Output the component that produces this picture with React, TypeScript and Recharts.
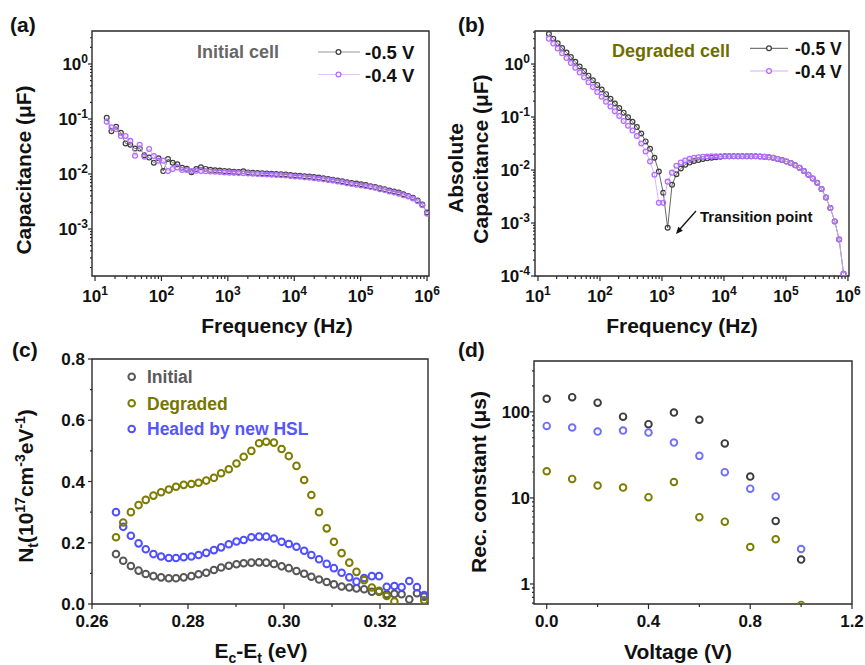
import React from "react";
import { ReferenceArea, Scatter, ScatterChart, XAxis, YAxis } from "recharts";

const FONT = '"Liberation Sans", Arial, Helvetica, sans-serif';
const AXIS = "#2a2a2a";

// (a)/(b) frequency sweep, Hz
const freqHz = [
  15, 17.66, 20.8, 24.49, 28.83, 33.95, 39.97, 47.07, 55.42, 65.25,
  76.82, 90.45, 106.5, 125.4, 147.6, 173.8, 204.7, 241, 283.8, 334.2,
  393.4, 463.3, 545.5, 642.3, 756.2, 890.4, 1048, 1235, 1454, 1712,
  2015, 2373, 2794, 3290, 3873, 4561, 5370, 6324, 7446, 8767,
  10323, 12154, 14311, 16850, 19840, 23360, 27504, 32385, 38131, 44897,
  52860, 62241, 73285, 86290, 101600, 119630, 140860, 165850, 195280, 229930,
  270720, 318770, 375330, 441930, 520330, 612680, 721400, 849400, 1000000,
];

// (a) initial cell, capacitance in uF
const initialNeg05 = [
  0.105, 0.06, 0.072, 0.056, 0.036, 0.034, 0.029, 0.029, 0.022, 0.0199,
  0.0161, 0.0193, 0.0113, 0.0187, 0.016, 0.015, 0.013, 0.0125, 0.0108, 0.0123,
  0.0133, 0.0124, 0.0119, 0.0117, 0.0116, 0.0114, 0.0112, 0.011, 0.0109, 0.0112,
  0.0107, 0.0105, 0.0104, 0.0103, 0.0102, 0.0101, 0.01, 0.0099, 0.0098, 0.0096,
  0.0094, 0.0093, 0.0091, 0.009, 0.0088, 0.0086, 0.0084, 0.0081, 0.0079, 0.0076,
  0.0074, 0.0071, 0.0069, 0.0067, 0.0065, 0.0063, 0.006, 0.0058, 0.0055, 0.0053,
  0.005, 0.0048, 0.0046, 0.0043, 0.004, 0.0037, 0.0033, 0.0028, 0.002,
];
const initialNeg04 = [
  0.089, 0.071, 0.065, 0.049, 0.049, 0.04, 0.0215, 0.034, 0.0206, 0.0285,
  0.0213, 0.0175, 0.0175, 0.0113, 0.0123, 0.0132, 0.0118, 0.0118, 0.0113, 0.0115,
  0.0113, 0.0112, 0.0111, 0.011, 0.0109, 0.0107, 0.0106, 0.0105, 0.0104, 0.0103,
  0.0102, 0.0101, 0.01, 0.0099, 0.0098, 0.0097, 0.0096, 0.0095, 0.0094, 0.0092,
  0.009, 0.0089, 0.0087, 0.0086, 0.0084, 0.0082, 0.008, 0.0078, 0.0076, 0.0073,
  0.0071, 0.0068, 0.0066, 0.0064, 0.0062, 0.006, 0.0058, 0.0056, 0.0053, 0.0051,
  0.0048, 0.0046, 0.0044, 0.0041, 0.0039, 0.0036, 0.0032, 0.0027, 0.0019,
];

// (b) degraded cell, absolute capacitance in uF
const degradedNeg05 = [
  3.68, 3.01, 2.46, 2.01, 1.65, 1.35, 1.1, 0.9, 0.738, 0.603,
  0.493, 0.404, 0.33, 0.27, 0.221, 0.18, 0.148, 0.121, 0.0989, 0.0813,
  0.0646, 0.049, 0.0347, 0.0251, 0.017, 0.00933, 0.00372, 0.000813, 0.00525, 0.00832,
  0.0107, 0.0126, 0.0138, 0.0148, 0.0155, 0.0162, 0.0166, 0.017, 0.0174, 0.0178,
  0.0182, 0.0182, 0.0182, 0.0182, 0.0182, 0.0182, 0.0182, 0.0182, 0.018, 0.0178,
  0.0174, 0.017, 0.0162, 0.0155, 0.0145, 0.0135, 0.0123, 0.011, 0.00955, 0.00813,
  0.00692, 0.00575, 0.00437, 0.00302, 0.00191, 0.00107, 0.00049, 0.00011, null,
];
const degradedNeg04 = [
  3.01, 2.44, 1.97, 1.6, 1.3, 1.05, 0.851, 0.69, 0.56, 0.453,
  0.367, 0.298, 0.241, 0.195, 0.158, 0.128, 0.104, 0.0843, 0.0684, 0.0557,
  0.0437, 0.0316, 0.0224, 0.0145, 0.00813, 0.0024, 0.0024, 0.00603, 0.00891, 0.012,
  0.0138, 0.0151, 0.0162, 0.017, 0.0174, 0.0178, 0.018, 0.0182, 0.0182, 0.0182,
  0.0182, 0.0182, 0.0182, 0.0182, 0.0182, 0.0182, 0.0182, 0.0182, 0.018, 0.0178,
  0.0174, 0.017, 0.0162, 0.0155, 0.0145, 0.0135, 0.0123, 0.011, 0.00955, 0.00813,
  0.00692, 0.00575, 0.00437, 0.00302, 0.00191, 0.00107, 0.00049, 0.00011, null,
];

// (c) trap density vs energy depth
const energyEv = [
  0.265, 0.2665, 0.2681, 0.2697, 0.2712, 0.2728, 0.2744, 0.276, 0.2775, 0.2791,
  0.2807, 0.2822, 0.2838, 0.2854, 0.2869, 0.2885, 0.2901, 0.2916, 0.2932, 0.2948,
  0.2963, 0.2979, 0.2995, 0.301, 0.3026, 0.3042, 0.3057, 0.3073, 0.3089, 0.3104,
  0.312, 0.3136, 0.3151, 0.3167, 0.3183, 0.3198, 0.3214, 0.323, 0.3245, 0.3261,
  0.3277, 0.3292,
];
const ntInitial = [
  0.163, 0.141, 0.124, 0.109, 0.098, 0.091, 0.087, 0.084, 0.084, 0.087,
  0.091, 0.097, 0.102, 0.111, 0.119, 0.125, 0.13, 0.133, 0.135, 0.136,
  0.135, 0.131, 0.123, 0.117, 0.108, 0.099, 0.089, 0.08, 0.072, 0.064,
  0.057, 0.054, 0.051, 0.048, 0.04, 0.04, 0.032, 0.033, 0.032, 0.015,
  0.035, 0.024,
];
const ntDegraded = [
  0.218, 0.266, 0.3, 0.323, 0.34, 0.354, 0.365, 0.374, 0.383, 0.389,
  0.392, 0.396, 0.403, 0.412, 0.427, 0.44, 0.459, 0.481, 0.5, 0.525,
  0.53, 0.527, 0.506, 0.483, 0.451, 0.405, 0.356, 0.3, 0.247, 0.203,
  0.166, 0.135, 0.105, 0.078, 0.054, 0.043, 0.026, 0.008, -0.02, -0.025,
  -0.02, 0.012,
];
const ntHealed = [
  0.3, 0.252, 0.223, 0.198, 0.179, 0.163, 0.155, 0.15, 0.15, 0.153,
  0.155, 0.16, 0.167, 0.176, 0.185, 0.195, 0.204, 0.209, 0.218, 0.22,
  0.22, 0.214, 0.203, 0.196, 0.187, 0.174, 0.16, 0.146, 0.131, 0.117,
  0.102, 0.087, 0.073, 0.085, 0.091, 0.091, 0.056, 0.059, 0.055, 0.075,
  0.055, 0.029,
];

// (d) recombination constant vs voltage
const voltage = [0, 0.1, 0.2, 0.3, 0.4, 0.5, 0.6, 0.7, 0.8, 0.9, 1.0];
const tauInitial = [141.6, 148, 128, 88, 72, 98, 81, 43, 17.7, 5.4, 1.92];
const tauDegraded = [20.4, 16.6, 13.9, 13.2, 10.2, 15.3, 5.97, 5.3, 2.69, 3.31, 0.57];
const tauHealed = [68.7, 65.8, 59, 60.6, 57.5, 44, 30.8, 19.9, 12.8, 10.4, 2.55];

const cTicksX = [0.26, 0.27, 0.28, 0.29, 0.3, 0.31, 0.32];
const cTicksY = [0, 0.1, 0.2, 0.3, 0.4, 0.5, 0.6, 0.7, 0.8];
const dTicksX = [0, 0.2, 0.4, 0.6, 0.8, 1.0, 1.2];

const COL = {
  black: "#3c3c3c",
  blackLine: "#555",
  purple: "#b36dff",
  purpleLine: "#cfadfb",
  grey: "#575757",
  olive: "#7c7c00",
  blue: "#4f4fff",
  blueD: "#6f6fff",
};

function toPoints(xs: number[], ys: (number | null)[]) {
  return xs
    .map((x, i) => ({ x, y: ys[i] }))
    .filter((p) => p.y !== null && p.y !== undefined);
}

// 1..9 x 10^n inside [lo, hi]
function logTicks(lo: number, hi: number) {
  const out: number[] = [];
  for (let e = Math.floor(Math.log10(lo)); e <= Math.ceil(Math.log10(hi)); e++) {
    for (let m = 1; m <= 9; m++) {
      const v = m * Math.pow(10, e);
      if (v >= lo * 0.999 && v <= hi * 1.001) out.push(v);
    }
  }
  return out;
}

const isDecade = (v: number) => Math.abs(Math.log10(v) - Math.round(Math.log10(v))) < 1e-6;
const everyStep = (step: number) => (v: number) => Math.abs(v / step - Math.round(v / step)) < 1e-6;

const pow10Label = (v: number) => (
  <>
    10
    <tspan dy={-7} fontSize={12}>
      {Math.round(Math.log10(v))}
    </tspan>
  </>
);

interface TickSpec {
  side: "x" | "y";
  isMajor: (v: number) => boolean;
  label: (v: number) => React.ReactNode;
  majorLen: number;
  minorLen: number;
  offset: number;
}

function makeTick(spec: TickSpec) {
  return function AxisTick(p: any) {
    const v = Number(p.payload?.value);
    const major = spec.isMajor(v);
    const len = major ? spec.majorLen : spec.minorLen;
    const txt = { fontFamily: FONT, fontWeight: 700, fontSize: 17, fill: "#111" };
    if (spec.side === "x") {
      return (
        <g>
          <line x1={p.x} x2={p.x} y1={p.y} y2={p.y + len} stroke={AXIS} strokeWidth={1.2} />
          {major && (
            <text x={p.x} y={p.y + spec.offset} textAnchor="middle" {...txt}>
              {spec.label(v)}
            </text>
          )}
        </g>
      );
    }
    return (
      <g>
        <line x1={p.x - len} x2={p.x} y1={p.y} y2={p.y} stroke={AXIS} strokeWidth={1.2} />
        {major && (
          <text x={p.x - spec.offset} y={p.y + 6} textAnchor="end" {...txt}>
            {spec.label(v)}
          </text>
        )}
      </g>
    );
  };
}

function ring(color: string, r: number, sw: number) {
  return function RingShape(p: any) {
    if (p.cx == null || p.cy == null) return <g />;
    return <circle cx={p.cx} cy={p.cy} r={r} fill="none" stroke={color} strokeWidth={sw} />;
  };
}

function Frame({ xd, yd }: { xd: number[]; yd: number[] }) {
  return null;
}

const A_X = [9, 1.07e6];
const A_Y = [1.4e-4, 3.98];
const B_X = [8.95, 1.04e6];
const B_Y = [1e-4, 4.2];
const C_X = [0.26, 0.33];
const C_Y = [0, 0.8];
const D_X = [-0.05, 1.2];
const D_Y = [0.585, 390];

function PanelA() {
  return (
    <ScatterChart width={440} height={330} margin={{ top: 31, right: 11, bottom: 24, left: 42 }}>
      <XAxis
        type="number" dataKey="x" scale="log" domain={A_X} allowDataOverflow height={30}
        ticks={logTicks(10, 1e6)} interval={0} tickSize={0} tickMargin={0} axisLine={false}
        tick={makeTick({ side: "x", isMajor: isDecade, label: pow10Label, majorLen: 5, minorLen: 3, offset: 26 })}
      />
      <YAxis
        type="number" dataKey="y" scale="log" domain={A_Y} allowDataOverflow width={50}
        ticks={logTicks(A_Y[0], A_Y[1])} interval={0} tickSize={0} tickMargin={0} axisLine={false}
        tick={makeTick({ side: "y", isMajor: isDecade, label: pow10Label, majorLen: 4, minorLen: 2, offset: 4 })}
      />
      <ReferenceArea x1={A_X[0]} x2={A_X[1]} y1={A_Y[0]} y2={A_Y[1]} fill="none" stroke={AXIS} strokeWidth={1.4} ifOverflow="visible" />
      <Scatter data={toPoints(freqHz, initialNeg05)} line={{ stroke: COL.blackLine, strokeWidth: 0.8 }} lineType="joint" shape={ring(COL.black, 2.4, 1.2)} isAnimationActive={false} />
      <Scatter data={toPoints(freqHz, initialNeg04)} line={{ stroke: COL.purpleLine, strokeWidth: 0.8 }} lineType="joint" shape={ring(COL.purple, 2.4, 1.3)} isAnimationActive={false} />
    </ScatterChart>
  );
}

function PanelB() {
  return (
    <ScatterChart width={435} height={330} margin={{ top: 31, right: 16, bottom: 24, left: 55 }}>
      <XAxis
        type="number" dataKey="x" scale="log" domain={B_X} allowDataOverflow height={30}
        ticks={logTicks(10, 1e6)} interval={0} tickSize={0} tickMargin={0} axisLine={false}
        tick={makeTick({ side: "x", isMajor: isDecade, label: pow10Label, majorLen: 5, minorLen: 3, offset: 26 })}
      />
      <YAxis
        type="number" dataKey="y" scale="log" domain={B_Y} allowDataOverflow width={50}
        ticks={logTicks(B_Y[0], B_Y[1])} interval={0} tickSize={0} tickMargin={0} axisLine={false}
        tick={makeTick({ side: "y", isMajor: isDecade, label: pow10Label, majorLen: 4, minorLen: 2, offset: 5 })}
      />
      <ReferenceArea x1={B_X[0]} x2={B_X[1]} y1={B_Y[0]} y2={B_Y[1]} fill="none" stroke={AXIS} strokeWidth={1.4} ifOverflow="visible" />
      <Scatter data={toPoints(freqHz, degradedNeg05)} line={{ stroke: COL.blackLine, strokeWidth: 0.9 }} lineType="joint" shape={ring(COL.black, 2.4, 1.2)} isAnimationActive={false} />
      <Scatter data={toPoints(freqHz, degradedNeg04)} line={{ stroke: COL.purpleLine, strokeWidth: 0.9 }} lineType="joint" shape={ring(COL.purple, 2.4, 1.3)} isAnimationActive={false} />
    </ScatterChart>
  );
}

function PanelC() {
  return (
    <ScatterChart width={440} height={335} margin={{ top: 29, right: 12, bottom: 31, left: 42 }}>
      <XAxis
        type="number" dataKey="x" domain={C_X} allowDataOverflow height={30}
        ticks={cTicksX} interval={0} tickSize={0} tickMargin={0} axisLine={false}
        tick={makeTick({ side: "x", isMajor: everyStep(0.02), label: (v) => v.toFixed(2), majorLen: 5, minorLen: 3, offset: 23 })}
      />
      <YAxis
        type="number" dataKey="y" domain={C_Y} allowDataOverflow width={50}
        ticks={cTicksY} interval={0} tickSize={0} tickMargin={0} axisLine={false}
        tick={makeTick({ side: "y", isMajor: everyStep(0.2), label: (v) => v.toFixed(1), majorLen: 4, minorLen: 2, offset: 7 })}
      />
      <ReferenceArea x1={C_X[0]} x2={C_X[1]} y1={C_Y[0]} y2={C_Y[1]} fill="none" stroke={AXIS} strokeWidth={1.4} ifOverflow="visible" />
      <Scatter data={toPoints(energyEv, ntInitial)} shape={ring(COL.grey, 3.3, 2)} isAnimationActive={false} />
      <Scatter data={toPoints(energyEv, ntHealed)} shape={ring(COL.blue, 3.3, 2)} isAnimationActive={false} />
      <Scatter data={toPoints(energyEv, ntDegraded)} shape={ring(COL.olive, 3.3, 2)} isAnimationActive={false} />
    </ScatterChart>
  );
}

function PanelD() {
  return (
    <ScatterChart width={435} height={335} margin={{ top: 31, right: 13, bottom: 31, left: 54 }}>
      <XAxis
        type="number" dataKey="x" domain={D_X} allowDataOverflow height={30}
        ticks={dTicksX} interval={0} tickSize={0} tickMargin={0} axisLine={false}
        tick={makeTick({ side: "x", isMajor: everyStep(0.4), label: (v) => v.toFixed(1), majorLen: 5, minorLen: 3, offset: 23 })}
      />
      <YAxis
        type="number" dataKey="y" scale="log" domain={D_Y} allowDataOverflow width={50}
        ticks={logTicks(0.6, 300)} interval={0} tickSize={0} tickMargin={0} axisLine={false}
        tick={makeTick({ side: "y", isMajor: isDecade, label: (v) => String(Math.round(v)), majorLen: 4, minorLen: 2, offset: 4 })}
      />
      <ReferenceArea x1={D_X[0]} x2={D_X[1]} y1={D_Y[0]} y2={D_Y[1]} fill="none" stroke={AXIS} strokeWidth={1.4} ifOverflow="visible" />
      <Scatter data={toPoints(voltage, tauInitial)} shape={ring(COL.black, 3.3, 1.9)} isAnimationActive={false} />
      <Scatter data={toPoints(voltage, tauHealed)} shape={ring(COL.blueD, 3.3, 1.9)} isAnimationActive={false} />
      <Scatter data={toPoints(voltage, tauDegraded)} shape={ring(COL.olive, 3.3, 1.9)} isAnimationActive={false} />
    </ScatterChart>
  );
}

// panel letters, axis titles, legends and the annotation
function Overlay() {
  const sub = 14;
  return (
    <svg width={865} height={665} style={{ position: "absolute", left: 0, top: 0 }} fontFamily={FONT} fontWeight={700} fill="#111">
      <text x={10} y={32} fontSize={21}>(a)</text>
      <text x={458} y={32} fontSize={21}>(b)</text>
      <text x={12} y={357} fontSize={21}>(c)</text>
      <text x={458} y={357} fontSize={21}>(d)</text>

      <text x={277} y={333} textAnchor="middle" fontSize={21}>Frequency (Hz)</text>
      <text x={682} y={333} textAnchor="middle" fontSize={21}>Frequency (Hz)</text>
      <text x={261} y={658} textAnchor="middle" fontSize={21}>
        E<tspan dy={5} fontSize={sub}>c</tspan>
        <tspan dy={-5}>-E</tspan>
        <tspan dy={5} fontSize={sub}>t</tspan>
        <tspan dy={-5}> (eV)</tspan>
      </text>
      <text x={678} y={659} textAnchor="middle" fontSize={21}>Voltage (V)</text>

      <text x={31} y={170} transform="rotate(-90 31 170)" textAnchor="middle" fontSize={21}>Capacitance (μF)</text>
      <text x={463} y={168} transform="rotate(-90 463 168)" textAnchor="middle" fontSize={21}>Absolute</text>
      <text x={488} y={159} transform="rotate(-90 488 159)" textAnchor="middle" fontSize={21}>Capacitance (μF)</text>
      <text x={33} y={486} transform="rotate(-90 33 486)" textAnchor="middle" fontSize={21}>
        N<tspan dy={5} fontSize={sub}>t</tspan>
        <tspan dy={-5}>(10</tspan>
        <tspan dy={-8} fontSize={sub}>17</tspan>
        <tspan dy={8}>cm</tspan>
        <tspan dy={-8} fontSize={sub}>-3</tspan>
        <tspan dy={8}>eV</tspan>
        <tspan dy={-8} fontSize={sub}>-1</tspan>
        <tspan dy={8}>)</tspan>
      </text>
      <text x={486} y={482} transform="rotate(-90 486 482)" textAnchor="middle" fontSize={21}>Rec. constant (μs)</text>

      {/* (a) legend */}
      <text x={197} y={58} fontSize={18} fill="#666">Initial cell</text>
      <line x1={318} x2={360} y1={52} y2={52} stroke="#9a9a9a" strokeWidth={1.2} />
      <circle cx={338.5} cy={52} r={2.4} fill="#fff" stroke={COL.black} strokeWidth={1.2} />
      <text x={365} y={58.5} fontSize={18.5}>-0.5 V</text>
      <line x1={318} x2={360} y1={74.5} y2={74.5} stroke="#dcc4ff" strokeWidth={1.2} />
      <circle cx={338.5} cy={74.5} r={2.4} fill="#fff" stroke={COL.purple} strokeWidth={1.3} />
      <text x={365} y={81.5} fontSize={18.5}>-0.4 V</text>

      {/* (b) legend */}
      <text x={612} y={57} fontSize={18} fill="#6e6e00">Degraded cell</text>
      <line x1={750} x2={788} y1={48.3} y2={48.3} stroke={COL.blackLine} strokeWidth={1} />
      <circle cx={769} cy={48.3} r={2.4} fill="#fff" stroke={COL.black} strokeWidth={1.2} />
      <text x={795} y={55} fontSize={17.5}>-0.5 V</text>
      <line x1={750} x2={788} y1={71} y2={71} stroke={COL.purpleLine} strokeWidth={1} />
      <circle cx={769} cy={71} r={2.4} fill="#fff" stroke={COL.purple} strokeWidth={1.3} />
      <text x={795} y={78} fontSize={17.5}>-0.4 V</text>

      {/* (b) transition annotation */}
      <text x={700} y={222} fontSize={15}>Transition point</text>
      <line x1={696} y1={211} x2={680} y2={229} stroke="#111" strokeWidth={1.3} />
      <polygon points="676,234 682.9,230.7 678.3,226.7" fill="#111" />

      {/* (c) legend */}
      <circle cx={131.7} cy={376.7} r={3.3} fill="none" stroke={COL.grey} strokeWidth={2} />
      <text x={147} y={383} fontSize={17.5} fill="#5a5a5a">Initial</text>
      <circle cx={131.7} cy={403.3} r={3.3} fill="none" stroke={COL.olive} strokeWidth={2} />
      <text x={147} y={410} fontSize={17.5} fill="#767600">Degraded</text>
      <circle cx={131.7} cy={429} r={3.3} fill="none" stroke={COL.blue} strokeWidth={2} />
      <text x={147} y={435} fontSize={17.5} fill="#5555ff">Healed by new HSL</text>
    </svg>
  );
}

export default function App() {
  const box = (left: number, top: number): React.CSSProperties => ({ position: "absolute", left, top });
  return (
    <div style={{ position: "absolute", left: 0, top: 0, width: 865, height: 665, background: "#fff", overflow: "hidden" }}>
      <div style={box(0, 0)}><PanelA /></div>
      <div style={box(430, 0)}><PanelB /></div>
      <div style={box(0, 330)}><PanelC /></div>
      <div style={box(430, 330)}><PanelD /></div>
      <Overlay />
    </div>
  );
}
